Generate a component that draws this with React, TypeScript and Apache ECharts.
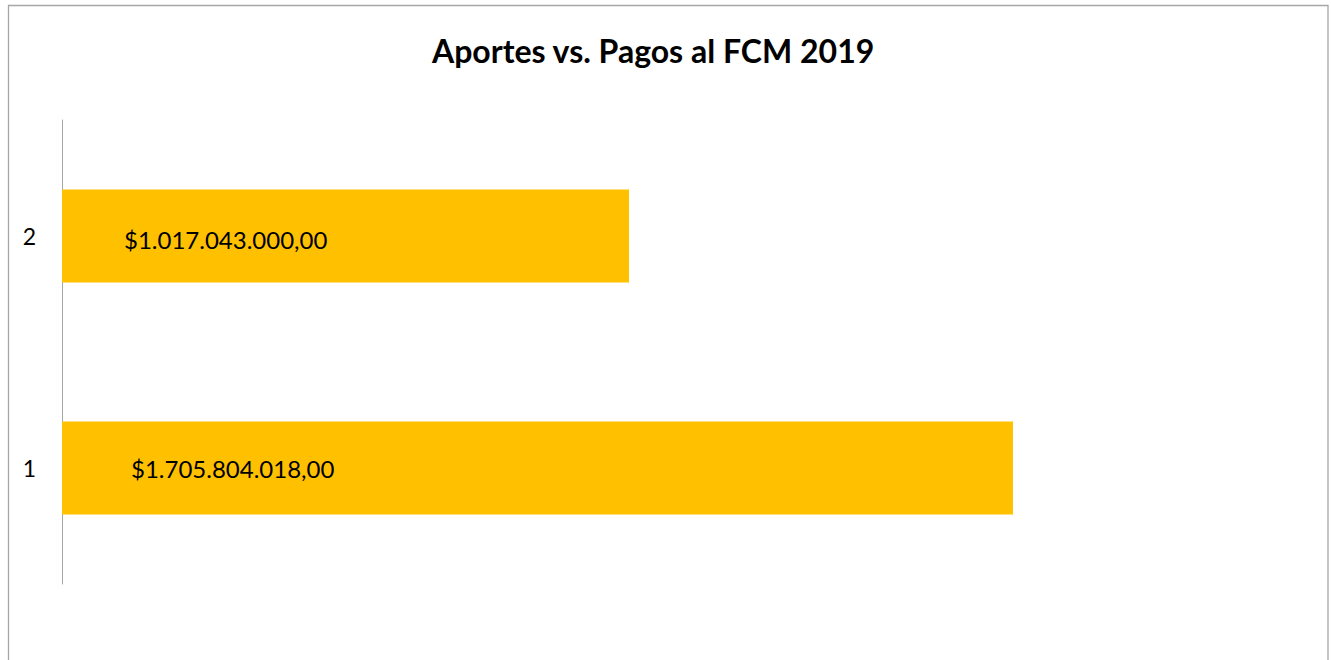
import React, { useEffect, useRef } from "react";
import * as echarts from "echarts";

const categories = ["1", "2"];
const values = [1705804018, 1017043000];
const labelTexts = ["$1.705.804.018,00", "$1.017.043.000,00"];
const labelOffsets = [69, 62];
const titleText = "Aportes vs. Pagos al FCM 2019";

export default function App() {
  const ref = useRef<HTMLDivElement>(null);
  useEffect(() => {
    document.body.style.margin = "0";
    const chart = echarts.init(ref.current!, null, { renderer: "svg" });
    const font = "Lato, 'Open Sans', sans-serif";
    chart.setOption({
      animation: false,
      backgroundColor: "#ffffff",
      title: {
        text: titleText,
        left: 427,
        top: 29,
        textStyle: { fontFamily: font, fontSize: 32, fontWeight: "bold", color: "#000000" },
      },
      graphic: [
        {
          type: "rect",
          shape: { x: 8.5, y: 5.5, width: 1319.5, height: 700 },
          style: { fill: "none", stroke: "#a6a6a6", lineWidth: 1.3 },
          silent: true,
          z: -1,
        },
      ],
      grid: { left: 62, right: 154, top: 120, bottom: 76 },
      xAxis: {
        type: "value",
        min: 0,
        max: 2000000000,
        show: false,
        splitLine: { show: false },
      },
      yAxis: {
        type: "category",
        data: categories,
        axisLine: { show: true, lineStyle: { color: "#a6a6a6", width: 1 } },
        axisTick: { show: false },
        axisLabel: { fontFamily: font, fontSize: 23, color: "#000000", margin: 26 },
      },
      series: [
        {
          type: "bar",
          barWidth: "40%",
          itemStyle: { color: "#FFC000" },
          data: values.map((v, i) => ({
            value: v,
            label: {
              show: true,
              position: "insideLeft",
              distance: labelOffsets[i],
              formatter: labelTexts[i],
              fontFamily: font,
              fontSize: 24,
              color: "#000000",
              offset: [0, i === 0 ? 0 : 3],
            },
          })),
        },
      ],
    });
    return () => chart.dispose();
  }, []);
  return <div ref={ref} style={{ width: 1331, height: 660 }} />;
}
